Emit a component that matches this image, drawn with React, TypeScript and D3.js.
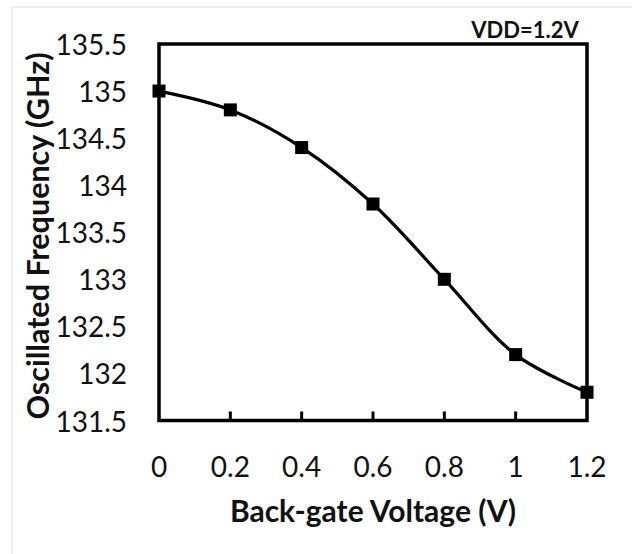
import React from "react";
import * as d3 from "d3";

const voltages = [0, 0.2, 0.4, 0.6, 0.8, 1.0, 1.2];
const frequencies = [135.0, 134.8, 134.4, 133.8, 133.0, 132.2, 131.8];
const xTicks = [0, 0.2, 0.4, 0.6, 0.8, 1.0, 1.2];
const yTicks = [131.5, 132, 132.5, 133, 133.5, 134, 134.5, 135, 135.5];
const xTitle = "Back-gate Voltage (V)";
const yTitle = "Oscillated Frequency (GHz)";
const annotation = "VDD=1.2V";

const W = 632;
const H = 554;
const FONT = "Lato, 'Open Sans', sans-serif";

export default function App() {
  const x = d3.scaleLinear().domain([0, 1.2]).range([159, 587]);
  const y = d3.scaleLinear().domain([131.5, 135.5]).range([420.5, 44]);
  const pts: [number, number][] = voltages.map((v, i) => [x(v), y(frequencies[i])]);
  const line = d3.line().curve(d3.curveCatmullRom.alpha(0.5))(pts) || "";
  const fmt = (v: number) => String(+v.toFixed(1));
  const ms = 13;
  return (
    <svg width={W} height={H} style={{ position: "absolute", left: 0, top: 0, background: "#fff" }}>
      <rect x={0} y={0} width={W} height={H} fill="#fff" />
      <line x1={12} y1={7} x2={W} y2={7} stroke="#e6e6e6" strokeWidth={1.5} />
      <line x1={12} y1={7} x2={12} y2={H} stroke="#e6e6e6" strokeWidth={1.5} />
      <rect x={x(0)} y={y(135.5)} width={x(1.2) - x(0)} height={y(131.5) - y(135.5)} fill="none" stroke="#000" strokeWidth={3.5} />
      {xTicks.slice(1, -1).map((t) => (
        <line key={"xt" + t} x1={x(t)} x2={x(t)} y1={y(131.5)} y2={y(131.5) - 9} stroke="#000" strokeWidth={3} />
      ))}
      {xTicks.map((t) => (
        <text key={"xl" + t} x={x(t)} y={466} textAnchor="middle" dominantBaseline="central" fontFamily={FONT} fontSize={28} fill="#111">
          {fmt(t)}
        </text>
      ))}
      {yTicks.map((t) => (
        <text key={"yl" + t} x={127} y={y(t)} textAnchor="end" dominantBaseline="central" fontFamily={FONT} fontSize={28} fill="#111">
          {fmt(t)}
        </text>
      ))}
      <path d={line} fill="none" stroke="#000" strokeWidth={3.2} />
      {pts.map(([px, py], i) => (
        <rect key={"m" + i} x={px - ms / 2} y={py - ms / 2} width={ms} height={ms} fill="#000" />
      ))}
      <text x={373} y={522} textAnchor="middle" fontFamily={FONT} fontWeight="bold" fontSize={30} fill="#111">
        {xTitle}
      </text>
      <text transform={`translate(37,236) rotate(-90)`} textAnchor="middle" dominantBaseline="central" fontFamily={FONT} fontWeight="bold" fontSize={30.5} fill="#111">
        {yTitle}
      </text>
      <text x={525} y={38} textAnchor="middle" fontFamily={FONT} fontWeight="bold" fontSize={22} fill="#111">
        {annotation}
      </text>
    </svg>
  );
}
